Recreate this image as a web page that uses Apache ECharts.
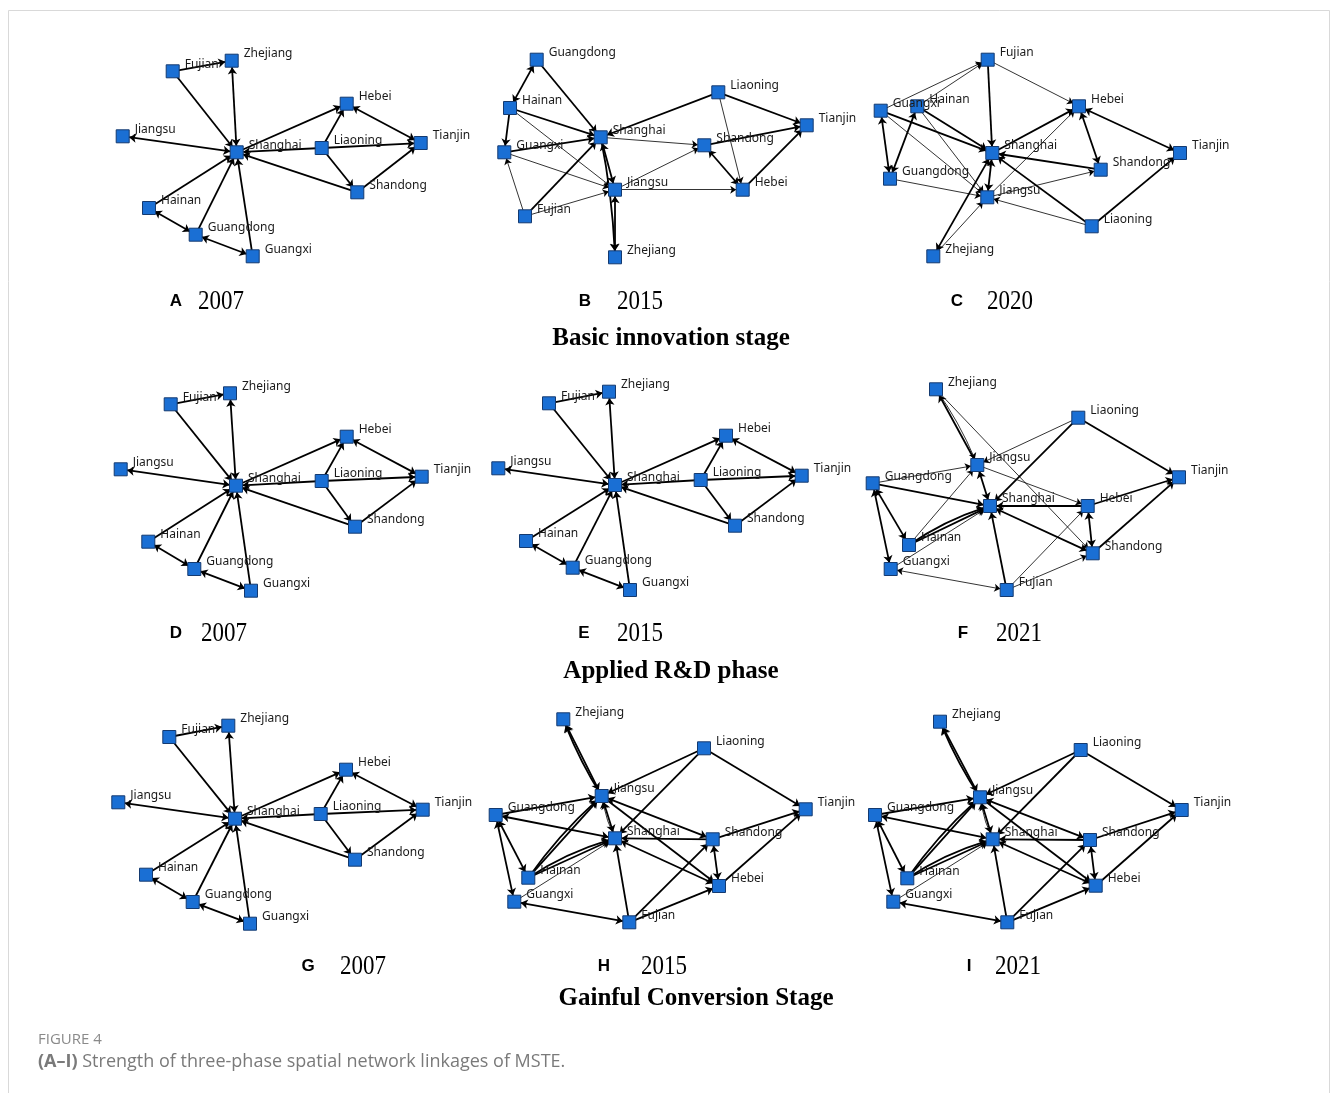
<!DOCTYPE html>
<html>
<head>
<meta charset="utf-8">
<title>Figure 4</title>
<script src="https://cdn.jsdelivr.net/npm/echarts@6/dist/echarts.min.js"></script>
<style>
html,body{margin:0;padding:0;background:#fff;}
#chart{width:1331px;height:1093px;}
</style>
</head>
<body>
<div id="chart"></div>
<script>
// node positions (panel-local units)
var posStar2007A = {Fujian:[72.7,33.3],Zhejiang:[131.7,22.7],Jiangsu:[22.7,98.3],Shanghai:[136.7,114.3],Liaoning:[221.7,110],Hebei:[246.7,65.7],Tianjin:[320.7,105],Shandong:[257.3,154.3],Hainan:[49,170],Guangdong:[95.7,196.7],Guangxi:[152.7,218.3]};
var posBasic2015 = {Guangdong:[51.7,21.7],Hainan:[25,70],Guangxi:[19.3,114.3],Shanghai:[115.7,99.3],Jiangsu:[130,151.7],Fujian:[40,178.3],Zhejiang:[130,219.3],Liaoning:[233.3,54.3],Tianjin:[321.7,87.3],Shandong:[219.3,107.3],Hebei:[257.7,151.7]};
var posBasic2020 = {Fujian:[127.7,21.7],Guangxi:[20.7,72.7],Hainan:[57.3,68.3],Hebei:[219,68.3],Shanghai:[132.3,115],Tianjin:[320,115],Shandong:[240.7,131.7],Guangdong:[30,140.7],Jiangsu:[127.3,159.3],Liaoning:[231.7,188.3],Zhejiang:[73.3,218.3]};
var posApplied2007 = {Fujian:[70.7,34.3],Zhejiang:[130,23.3],Jiangsu:[20.7,99.3],Shanghai:[136,115.7],Liaoning:[221.7,111],Hebei:[246.7,66.7],Tianjin:[321.7,106.7],Shandong:[255,156.7],Hainan:[48.3,171.7],Guangdong:[94.3,199],Guangxi:[151,220.7]};
var posApplied2015 = {Fujian:[69,33.3],Zhejiang:[129,21.7],Jiangsu:[18.3,98.3],Shanghai:[135,115],Liaoning:[220.7,110],Hebei:[246,65.7],Tianjin:[321.7,105.7],Shandong:[255,155.7],Hainan:[46,171],Guangdong:[92.7,197.7],Guangxi:[150,220]};
var posApplied2021 = {Zhejiang:[76,19.3],Liaoning:[218.3,47.7],Jiangsu:[117.3,95],Guangdong:[12.7,113.3],Tianjin:[319,107.3],Shanghai:[130,136],Hebei:[227.7,136],Hainan:[49,175],Shandong:[232.7,183.3],Guangxi:[30.7,199],Fujian:[146.7,220]};
var posGain2007 = {Fujian:[69.3,34],Zhejiang:[128.3,22.7],Jiangsu:[18.3,99.3],Shanghai:[135,115.7],Liaoning:[220.7,111],Hebei:[246,66.7],Tianjin:[322.7,106.7],Shandong:[255,156.7],Hainan:[46,171.7],Guangdong:[92.7,199],Guangxi:[150,220.7]};
var posGain2015 = {Zhejiang:[83.3,19.3],Liaoning:[224,48.3],Jiangsu:[121.7,96],Guangdong:[15.7,115],Tianjin:[325.7,109.3],Shanghai:[135,138.3],Shandong:[232.7,139.3],Hainan:[48.3,177.7],Hebei:[239,186],Guangxi:[34.3,201.7],Fujian:[149.3,222.3]};
var posGain2021 = {Zhejiang:[80,21.7],Liaoning:[220.7,50],Jiangsu:[120,97.3],Guangdong:[15,115],Tianjin:[321.7,110],Shanghai:[132.7,139.3],Shandong:[230,140],Hainan:[47.3,178.3],Hebei:[235.7,185.7],Guangxi:[33.3,201.7],Fujian:[147.3,222.3]};

// links: [source, target, strength (1 weak / 2 strong), 1 = one way / 2 = both ways, bend]
var edgesStar = [
	['Fujian','Shanghai',2,1],['Fujian','Zhejiang',2,1],['Zhejiang','Shanghai',2,2],
	['Jiangsu','Shanghai',2,2],['Hainan','Shanghai',2,1],['Guangdong','Shanghai',2,1],
	['Guangxi','Shanghai',2,1],['Hainan','Guangdong',2,2],['Guangdong','Guangxi',2,2],
	['Shanghai','Hebei',2,1],['Liaoning','Shanghai',2,1],['Liaoning','Hebei',2,1],
	['Liaoning','Tianjin',2,1],['Liaoning','Shandong',2,1],['Hebei','Tianjin',2,2],
	['Shandong','Tianjin',2,1],['Shandong','Shanghai',2,1]
];
var edgesBasic2015 = [
	['Guangdong','Hainan',2,2],['Guangdong','Shanghai',2,1],['Hainan','Shanghai',2,1],
	['Hainan','Guangxi',2,1],['Hainan','Jiangsu',1,1],['Guangxi','Shanghai',2,1],
	['Guangxi','Jiangsu',1,1],['Fujian','Guangxi',1,1],['Fujian','Shanghai',2,1],
	['Fujian','Jiangsu',1,1],['Shanghai','Jiangsu',2,2],['Shanghai','Zhejiang',2,1,0.04],
	['Zhejiang','Jiangsu',2,2],['Shanghai','Shandong',1,1],['Liaoning','Shanghai',2,1],
	['Liaoning','Tianjin',2,1],['Liaoning','Hebei',1,1],['Jiangsu','Shandong',1,1],
	['Jiangsu','Hebei',1,1],['Shandong','Tianjin',2,1],['Shandong','Hebei',2,2],
	['Hebei','Tianjin',2,1]
];
var edgesBasic2020 = [
	['Guangxi','Fujian',1,1],['Hainan','Fujian',1,1],['Fujian','Shanghai',2,1],
	['Fujian','Hebei',1,1],['Guangxi','Shanghai',2,1],['Guangxi','Guangdong',2,2],
	['Guangxi','Jiangsu',1,1],['Hainan','Shanghai',2,1],['Hainan','Guangdong',2,2],
	['Hainan','Jiangsu',1,1],['Guangdong','Jiangsu',1,1],['Shanghai','Jiangsu',2,2],
	['Shanghai','Zhejiang',2,2],['Zhejiang','Jiangsu',1,1],['Shanghai','Hebei',2,1],
	['Jiangsu','Hebei',1,1],['Hebei','Shandong',2,2],['Hebei','Tianjin',2,2],
	['Shandong','Shanghai',2,1],['Jiangsu','Shandong',1,1],['Liaoning','Shanghai',2,1],
	['Liaoning','Jiangsu',1,1],['Liaoning','Tianjin',2,1]
];
var edgesApplied2021 = [
	['Jiangsu','Zhejiang',2,1],['Zhejiang','Jiangsu',1,1,0.06],['Jiangsu','Shanghai',2,2],
	['Guangdong','Jiangsu',1,1],['Liaoning','Jiangsu',1,1],['Liaoning','Shanghai',2,1],
	['Liaoning','Tianjin',2,1],['Guangdong','Shanghai',2,1],['Guangdong','Hainan',2,2],
	['Guangdong','Guangxi',2,2],['Hainan','Jiangsu',1,1],['Hainan','Shanghai',2,1],
	['Hainan','Shanghai',2,1,0.08],['Guangxi','Shanghai',1,1],['Guangxi','Fujian',1,2],
	['Fujian','Shanghai',2,1],['Fujian','Hebei',1,1],['Fujian','Shandong',1,1],
	['Hebei','Shanghai',2,1],['Jiangsu','Hebei',1,1],['Shandong','Shanghai',2,2],
	['Hebei','Shandong',2,2],['Hebei','Tianjin',2,1],['Shandong','Tianjin',2,1],
	['Zhejiang','Shandong',1,1]
];
var edgesGain = [
	['Zhejiang','Jiangsu',2,2],['Jiangsu','Zhejiang',2,1,0.05],['Jiangsu','Shanghai',2,2],
	['Shanghai','Jiangsu',1,1,0.08],['Guangdong','Jiangsu',2,1],['Liaoning','Jiangsu',2,1],
	['Liaoning','Shanghai',2,1],['Liaoning','Tianjin',2,1],['Guangdong','Shanghai',2,2],
	['Guangdong','Hainan',2,2],['Guangdong','Guangxi',2,2],['Hainan','Jiangsu',2,1],
	['Hainan','Jiangsu',2,1,0.06],['Hainan','Shanghai',2,1],['Hainan','Shanghai',2,1,0.08],
	['Guangxi','Fujian',2,2],['Guangxi','Shanghai',1,1],['Fujian','Shanghai',2,1],
	['Fujian','Shandong',2,1],['Fujian','Hebei',2,1],['Shandong','Shanghai',2,1],
	['Shanghai','Hebei',2,2],['Jiangsu','Shandong',2,2],['Jiangsu','Hebei',2,1],
	['Shandong','Hebei',2,2],['Shandong','Tianjin',2,1],['Hebei','Tianjin',2,1]
];

var panelLetters = ['A','B','C','D','E','F','G','H','I'];
var panelYears = ['2007','2015','2020','2007','2015','2021','2007','2015','2021'];
var stageNames = ['Basic innovation stage','Applied R&D phase','Gainful Conversion Stage'];

var panelPos = [posStar2007A,posBasic2015,posBasic2020,posApplied2007,posApplied2015,posApplied2021,posGain2007,posGain2015,posGain2021];
var panelEdges = [edgesStar,edgesBasic2015,edgesBasic2020,edgesStar,edgesStar,edgesApplied2021,edgesStar,edgesGain,edgesGain];

// layout of the page
var panelOrigin = [[100,38],[485,38],[860,38],[100,370],[480,370],[860,370],[100,703],[480,700],[860,700]];
var PW = 380, PH = 235;
var letterX = [176,585,957,176,584,963,308,604,969];
var yearX = [198,617,987,201,617,996,340,641,995];
var captionY = [301,301,301,633,633,633,966,966,966];
var stageXY = [[671,338],[671,671],[696,998]];

var chart = echarts.init(document.getElementById('chart'));

var grids = [], xAxes = [], yAxes = [], series = [], graphics = [];

for (var i = 0; i < 9; i++) {
	grids.push({left: panelOrigin[i][0], top: panelOrigin[i][1], width: PW, height: PH});
	xAxes.push({gridIndex: i, type: 'value', min: 0, max: PW, show: false});
	yAxes.push({gridIndex: i, type: 'value', min: 0, max: PH, inverse: true, show: false});

	var pos = panelPos[i];
	var nodes = [];
	for (var n in pos) {
		nodes.push({name: n, value: pos[n]});
	}
	var links = panelEdges[i].map(function(e) {
		return {
			source: e[0],
			target: e[1],
			symbol: e[3] == 2 ? ['arrow','arrow'] : ['none','arrow'],
			symbolSize: e[2] == 2 ? 7 : 6,
			lineStyle: {width: e[2] == 2 ? 1.8 : 0.8, curveness: e[4] || 0}
		};
	});
	series.push({
		type: 'graph',
		coordinateSystem: 'cartesian2d',
		xAxisIndex: i,
		yAxisIndex: i,
		layout: 'none',
		silent: true,
		symbol: 'rect',
		symbolSize: 13,
		itemStyle: {color: '#1a6fd4', borderColor: '#143a70', borderWidth: 1},
		label: {
			show: true,
			position: 'right',
			distance: 5,
			offset: [0, -7],
			fontSize: 12,
			fontFamily: 'Noto Sans',
			color: '#1a1a1a'
		},
		lineStyle: {color: '#000', opacity: 1},
		emphasis: {disabled: true},
		data: nodes,
		links: links
	});

	graphics.push({
		type: 'text', x: letterX[i], y: captionY[i],
		style: {text: panelLetters[i], fontSize: 17, fontWeight: 'bold', fontFamily: 'Liberation Sans',
			fill: '#000', align: 'center', verticalAlign: 'middle'}
	});
	graphics.push({
		type: 'text', x: yearX[i], y: captionY[i] + 1, scaleX: 0.82,
		style: {text: panelYears[i], fontSize: 28, fontFamily: 'Liberation Serif',
			fill: '#000', align: 'left', verticalAlign: 'middle'}
	});
}

for (var s = 0; s < stageNames.length; s++) {
	graphics.push({
		type: 'text', x: stageXY[s][0], y: stageXY[s][1] + 1,
		style: {text: stageNames[s], fontSize: 25, fontWeight: 'bold', fontFamily: 'Liberation Serif',
			fill: '#000', align: 'center', verticalAlign: 'middle'}
	});
}

graphics.push({
	type: 'rect', shape: {x: 8.5, y: 10.5, width: 1321, height: 1110},
	style: {fill: 'none', stroke: '#d9d9d9', lineWidth: 1}, z: -1
});
graphics.push({
	type: 'text', x: 38, y: 1040,
	style: {text: 'FIGURE 4', fontSize: 15, fontFamily: 'Open Sans', fill: '#8a8a8a', verticalAlign: 'middle'}
});
graphics.push({
	type: 'text', x: 38, y: 1062,
	style: {
		text: '{b|(A\u2013I)} Strength of three-phase spatial network linkages of MSTE.',
		fontSize: 18, fontFamily: 'Open Sans', fill: '#7a7a7a', verticalAlign: 'middle',
		rich: {b: {fontSize: 18, fontFamily: 'Open Sans', fontWeight: 'bold', fill: '#7a7a7a'}}
	}
});

chart.setOption({
	animation: false,
	backgroundColor: '#fff',
	grid: grids,
	xAxis: xAxes,
	yAxis: yAxes,
	series: series,
	graphic: graphics
});
</script>
</body>
</html>
